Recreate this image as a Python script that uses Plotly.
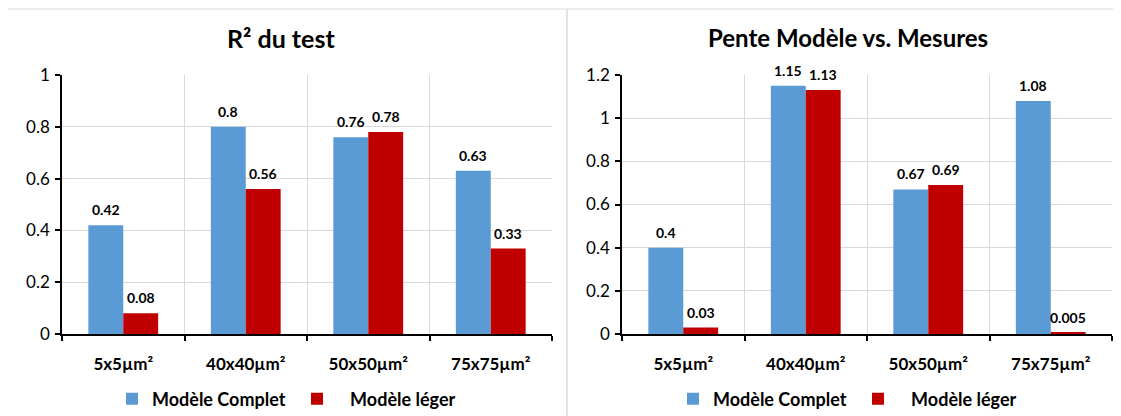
import plotly.graph_objects as go
from plotly.subplots import make_subplots

categories = ["5x5µm²", "40x40µm²", "50x50µm²", "75x75µm²"]
r2_complet = [0.42, 0.8, 0.76, 0.63]
r2_leger = [0.08, 0.56, 0.78, 0.33]
pente_complet = [0.4, 1.15, 0.67, 1.08]
pente_leger = [0.03, 1.13, 0.69, 0.005]
r2_ticks = [0, 0.2, 0.4, 0.6, 0.8, 1]
pente_ticks = [0, 0.2, 0.4, 0.6, 0.8, 1, 1.2]
titles = ["R² du test", "Pente Modèle vs. Mesures"]
series_names = ["Modèle Complet", "Modèle léger"]

BLUE = "#5B9BD5"
RED = "#C00000"
GRID = "#D9D9D9"
FONT = "Lato"

W, H = 1121, 416
OFF = 8  # page body margin

fig = make_subplots(rows=1, cols=2)

panels = [
    (1, r2_complet, r2_leger, "legend"),
    (2, pente_complet, pente_leger, "legend2"),
]
for col, comp, leg, lg in panels:
    fig.add_trace(go.Bar(x=categories, y=comp, name=f"<b>{series_names[0]}</b>", marker_color=BLUE,
                         marker_line_width=0, legend=lg), row=1, col=col)
    fig.add_trace(go.Bar(x=categories, y=leg, name=f"<b>   {series_names[1]}</b>", marker_color=RED,
                         marker_line_width=0, legend=lg), row=1, col=col)
    xref = "x" if col == 1 else "x2"
    yref = "y" if col == 1 else "y2"
    for vals, shift in ((comp, -17.5), (leg, 17.5)):
        for c, v in zip(categories, vals):
            fig.add_annotation(x=c, y=v, xref=xref, yref=yref, text=f"<b>{v}</b>",
                               showarrow=False, xshift=shift, yanchor="bottom", yshift=5,
                               font=dict(family=FONT, size=14, color="#000"))

def px(x):
    return (x - OFF) / W

def py(y):
    return 1 - (y - OFF) / H

ydom = [py(334), py(75)]
legend_common = dict(orientation="h", xref="container", yref="container", xanchor="left",
                     y=py(399), yanchor="middle", font=dict(family=FONT, size=18, color="#000"),
                     itemwidth=30, traceorder="normal", entrywidth=140, bgcolor="rgba(0,0,0,0)")
fig.update_layout(
    width=W, height=H, margin=dict(l=0, r=0, t=0, b=0, autoexpand=False),
    paper_bgcolor="white", plot_bgcolor="white",
    barmode="group", bargap=0.43, bargroupgap=0,
    font=dict(family=FONT, color="#000"),
    xaxis=dict(domain=[px(62), px(552)]),
    xaxis2=dict(domain=[px(622), px(1112)]),
    yaxis=dict(domain=ydom, range=[0, 1], tickvals=r2_ticks),
    yaxis2=dict(domain=ydom, range=[0, 1.2], tickvals=pente_ticks),
    legend=dict(x=px(112), **legend_common),
    legend2=dict(x=px(673), **legend_common),
)
fig.update_xaxes(type="category", showline=True, linecolor="#000", linewidth=1.5,
                 showgrid=True, gridcolor=GRID, gridwidth=1, tickson="boundaries",
                 ticks="outside", ticklen=5, tickcolor="#000", tickwidth=1.5,
                 tickfont=dict(family=FONT, size=17, color="#000"),
                 ticklabelstandoff=14, automargin=False)
fig.update_yaxes(showline=True, linecolor="#000", linewidth=1.5,
                 showgrid=True, gridcolor=GRID, gridwidth=1, zeroline=False,
                 ticks="outside", ticklen=5, tickcolor="#000", tickwidth=1.5,
                 tickfont=dict(family=FONT, size=17, color="#000"),
                 ticklabelstandoff=2, automargin=False)

# Bold tick labels
fig.update_yaxes(tickprefix="<b>", ticksuffix="</b>")
fig.update_xaxes(tickprefix="<b>", ticksuffix="</b>")

# Titles
fig.add_annotation(x=px(281), y=py(38), xref="paper", yref="paper", showarrow=False,
                   xanchor="center", yanchor="middle",
                   text=f"<b>{titles[0]}</b>", font=dict(family=FONT, size=25, color="#000"))
fig.add_annotation(x=px(848), y=py(38), xref="paper", yref="paper", showarrow=False,
                   xanchor="center", yanchor="middle",
                   text=f"<b>{titles[1]}</b>", font=dict(family=FONT, size=24, color="#000"))

# Panel borders
fig.add_shape(type="rect", xref="paper", yref="paper", x0=px(7), x1=px(567), y0=-0.1, y1=py(9),
              line=dict(color=GRID, width=1), layer="below")
fig.add_shape(type="rect", xref="paper", yref="paper", x0=px(567), x1=1.1, y0=-0.1, y1=py(9),
              line=dict(color=GRID, width=1), layer="below")

fig.write_html("out.html")
